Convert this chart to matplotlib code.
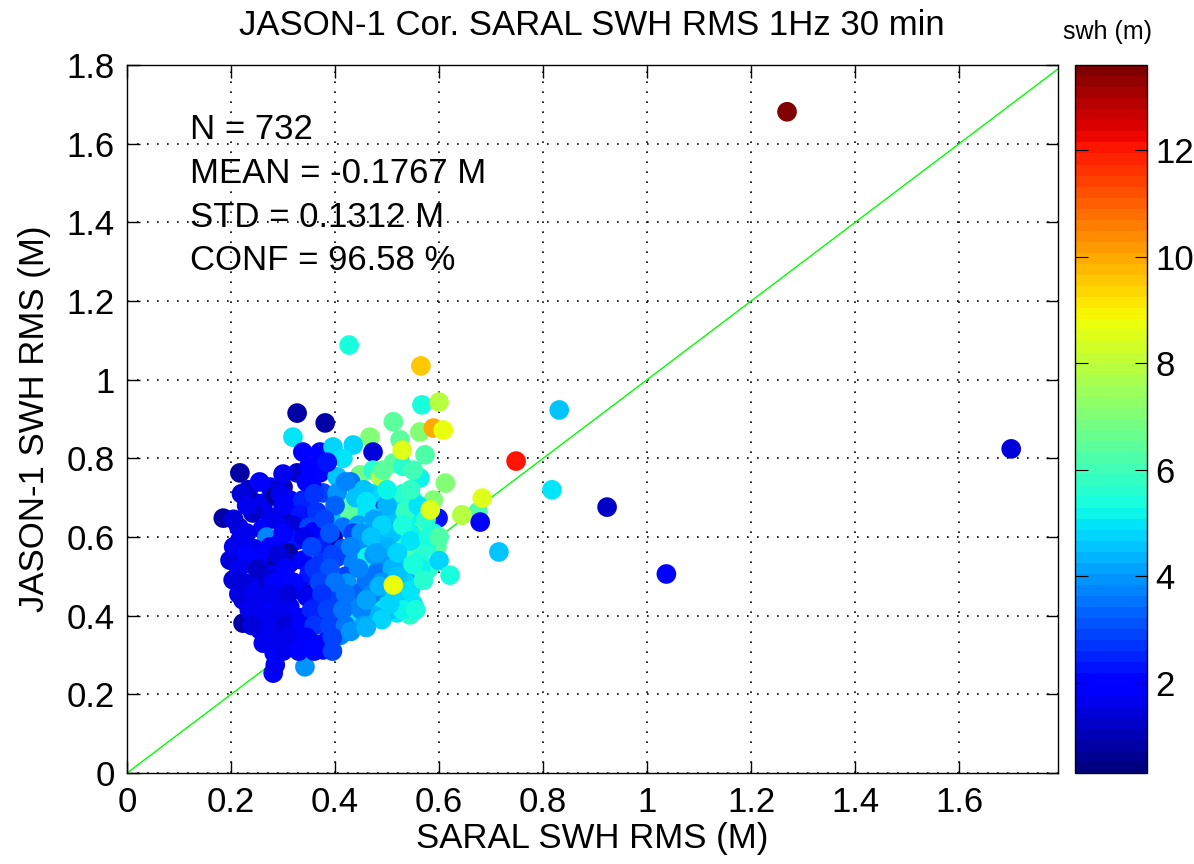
import matplotlib
matplotlib.use("Agg")
import matplotlib.pyplot as plt

plt.rcParams['font.family'] = ['Liberation Sans', 'DejaVu Sans']

# points: SARAL RMS (x), JASON-1 RMS (y), swh (colour)
upper_x = [0.327, 0.381, 0.567, 0.600, 0.512, 0.563, 0.589, 0.467, 0.525, 0.573,
           0.319, 0.338, 0.371, 0.396, 0.435, 0.473,
           0.217, 0.275, 0.300, 0.327, 0.371, 0.404, 0.415, 0.448, 0.473, 0.487,
           0.492, 0.512, 0.563, 0.612, 0.233, 0.350, 0.385, 0.300]
upper_y = [0.915, 0.890, 0.936, 0.943, 0.893, 0.867, 0.877, 0.854, 0.847, 0.809,
           0.854, 0.816, 0.816, 0.829, 0.834, 0.816,
           0.763, 0.727, 0.727, 0.763, 0.763, 0.753, 0.800, 0.758, 0.770, 0.753,
           0.770, 0.788, 0.750, 0.737, 0.720, 0.780, 0.790, 0.760]
upper_c = [0.8, 0.9, 5.3, 7.8, 6.5, 7.0, 10.0, 7.0, 6.5, 6.2,
           5.0, 1.8, 2.0, 4.7, 4.8, 1.5,
           0.8, 1.6, 1.0, 1.2, 2.0, 4.5, 5.0, 6.8, 5.5, 7.8,
           6.5, 6.5, 5.2, 7.0, 1.3, 1.8, 2.2, 1.6]

middle_x = [0.246, 0.262, 0.313, 0.338, 0.377, 0.404, 0.429, 0.452, 0.487, 0.519,
            0.550, 0.589, 0.577, 0.598, 0.644, 0.675, 0.679, 0.285, 0.355,
            0.185, 0.242, 0.275, 0.300, 0.333, 0.365, 0.394, 0.429, 0.462, 0.487,
            0.519, 0.550, 0.563, 0.589, 0.215, 0.260, 0.320, 0.350, 0.415, 0.445,
            0.505, 0.535,
            0.217, 0.269, 0.294, 0.327, 0.358, 0.396, 0.435, 0.467, 0.512, 0.544,
            0.563, 0.596, 0.245, 0.310, 0.375, 0.415, 0.455, 0.490, 0.530, 0.340]
middle_y = [0.687, 0.686, 0.694, 0.694, 0.712, 0.712, 0.676, 0.694, 0.694, 0.686,
            0.694, 0.694, 0.669, 0.648, 0.656, 0.664, 0.638, 0.705, 0.730,
            0.648, 0.661, 0.651, 0.664, 0.656, 0.664, 0.651, 0.656, 0.664, 0.638,
            0.636, 0.643, 0.613, 0.610, 0.625, 0.620, 0.630, 0.625, 0.625, 0.630,
            0.660, 0.665,
            0.592, 0.600, 0.585, 0.592, 0.613, 0.598, 0.610, 0.618, 0.585, 0.567,
            0.541, 0.575, 0.570, 0.560, 0.575, 0.570, 0.580, 0.600, 0.605, 0.600]
middle_c = [1.1, 1.7, 1.9, 2.4, 3.0, 4.0, 6.5, 5.5, 2.8, 5.0,
            5.3, 7.0, 6.8, 2.2, 7.5, 6.2, 1.8, 0.9, 1.8,
            0.8, 1.3, 1.7, 1.0, 2.2, 2.6, 4.5, 6.4, 5.0, 5.3,
            2.9, 5.2, 6.5, 5.4, 1.6, 2.0, 1.4, 2.8, 3.5, 4.2,
            4.6, 5.8,
            1.6, 3.8, 1.8, 2.3, 2.0, 0.8, 3.0, 4.8, 5.0, 6.3,
            5.3, 6.5, 1.7, 0.8, 2.5, 3.2, 3.9, 4.4, 5.6, 1.7]

lower_x = [0.198, 0.231, 0.260, 0.288, 0.313, 0.338, 0.371, 0.404, 0.435, 0.462,
           0.500, 0.531, 0.550, 0.480, 0.420, 0.350, 0.280, 0.580, 0.600,
           0.204, 0.237, 0.269, 0.300, 0.333, 0.358, 0.390, 0.423, 0.448, 0.481,
           0.530, 0.550, 0.215, 0.255, 0.460, 0.505,
           0.223, 0.250, 0.281, 0.313, 0.346, 0.371, 0.404, 0.429, 0.462, 0.492,
           0.519, 0.544, 0.265, 0.300, 0.335, 0.445, 0.475]
lower_y = [0.541, 0.534, 0.545, 0.541, 0.534, 0.541, 0.534, 0.549, 0.534, 0.549,
           0.541, 0.516, 0.498, 0.510, 0.500, 0.505, 0.505, 0.520, 0.540,
           0.491, 0.483, 0.491, 0.473, 0.465, 0.458, 0.473, 0.483, 0.458, 0.448,
           0.450, 0.430, 0.455, 0.450, 0.490, 0.460,
           0.440, 0.422, 0.432, 0.422, 0.448, 0.432, 0.440, 0.422, 0.422, 0.414,
           0.407, 0.402, 0.395, 0.390, 0.395, 0.395, 0.400]
lower_c = [1.5, 1.3, 1.8, 0.9, 1.2, 2.0, 2.7, 3.0, 3.8, 5.2,
           4.0, 4.6, 3.7, 3.5, 3.0, 2.2, 1.6, 5.5, 4.7,
           1.4, 1.6, 1.5, 1.8, 2.0, 1.0, 3.0, 4.0, 3.3, 4.8,
           4.5, 5.0, 1.6, 1.5, 3.6, 4.2,
           1.5, 1.7, 1.8, 1.9, 1.6, 2.2, 3.0, 3.8, 4.0, 5.0,
           4.9, 5.5, 1.6, 1.5, 1.9, 3.5, 4.3]

base_x = [0.223, 0.256, 0.288, 0.319, 0.346, 0.377, 0.404, 0.435, 0.385, 0.358,
          0.294, 0.262, 0.410, 0.330, 0.377,
          0.281, 0.285, 0.283, 0.342]
base_y = [0.381, 0.364, 0.356, 0.371, 0.397, 0.389, 0.381, 0.397, 0.338, 0.330,
          0.320, 0.330, 0.350, 0.345, 0.313,
          0.254, 0.275, 0.305, 0.270]
base_c = [0.8, 1.6, 1.5, 1.8, 1.7, 2.3, 2.8, 5.0, 2.2, 2.0,
          1.7, 1.6, 3.8, 1.9, 2.0,
          1.8, 1.7, 1.8, 4.0]

core_x = [0.255, 0.345, 0.430,
          0.220, 0.295, 0.360, 0.470, 0.530,
          0.230, 0.300, 0.400, 0.500, 0.560,
          0.205, 0.285, 0.380, 0.475, 0.575,
          0.230, 0.300, 0.390, 0.450, 0.510, 0.545,
          0.205, 0.275, 0.355, 0.430, 0.500, 0.575,
          0.230, 0.290, 0.395, 0.475,
          0.215, 0.250, 0.305, 0.360, 0.390, 0.445, 0.510, 0.565,
          0.220, 0.285, 0.320, 0.370, 0.400, 0.490, 0.535,
          0.240, 0.275, 0.310, 0.375, 0.420, 0.470, 0.515,
          0.235, 0.295, 0.355, 0.385, 0.415, 0.450, 0.505, 0.530,
          0.240, 0.275, 0.305, 0.335, 0.360, 0.390, 0.420, 0.455,
          0.275, 0.310, 0.345, 0.395,
          0.300, 0.330, 0.360, 0.395]
core_y = [0.740, 0.740, 0.740,
          0.710, 0.710, 0.710, 0.710, 0.710,
          0.680, 0.680, 0.680, 0.680, 0.680,
          0.645, 0.645, 0.645, 0.645, 0.645,
          0.610, 0.610, 0.610, 0.610, 0.610, 0.610,
          0.575, 0.575, 0.575, 0.575, 0.575, 0.575,
          0.555, 0.555, 0.555, 0.555,
          0.520, 0.520, 0.520, 0.520, 0.520, 0.520, 0.520, 0.520,
          0.485, 0.485, 0.485, 0.485, 0.485, 0.485, 0.485,
          0.455, 0.455, 0.455, 0.455, 0.455, 0.455, 0.455,
          0.415, 0.415, 0.415, 0.415, 0.415, 0.415, 0.415, 0.415,
          0.375, 0.375, 0.375, 0.375, 0.375, 0.375, 0.375, 0.375,
          0.345, 0.345, 0.345, 0.345,
          0.310, 0.310, 0.310, 0.310]
core_c = [1.8, 1.9, 3.6,
          1.4, 1.7, 2.6, 4.8, 5.6,
          1.6, 1.9, 3.4, 4.4, 5.0,
          1.5, 1.6, 3.0, 4.2, 5.6,
          1.7, 2.0, 3.2, 4.0, 4.6, 5.2,
          1.6, 1.8, 2.8, 3.8, 4.3, 5.5,
          2.0, 1.4, 3.0, 3.9,
          1.6, 1.3, 1.9, 2.6, 3.2, 3.8, 4.4, 5.2,
          1.5, 1.8, 2.0, 2.8, 3.6, 4.0, 4.8,
          1.7, 1.6, 1.4, 2.7, 3.5, 3.8, 4.7,
          1.6, 1.7, 2.4, 3.0, 3.6, 3.8, 4.6, 5.1,
          1.4, 1.6, 1.5, 1.9, 2.6, 3.0, 3.6, 4.2,
          1.7, 1.6, 1.8, 2.8,
          1.7, 1.9, 2.0, 3.0]

rim_x = [0.455, 0.500, 0.545, 0.490, 0.530, 0.470, 0.545, 0.520, 0.480, 0.550,
         0.520, 0.485, 0.545, 0.570, 0.505, 0.555, 0.460, 0.490, 0.430, 0.460,
         0.580, 0.600, 0.420, 0.440, 0.460, 0.530, 0.550]
rim_y = [0.720, 0.720, 0.720, 0.630, 0.630, 0.600, 0.590, 0.560, 0.560, 0.530,
         0.500, 0.475, 0.465, 0.490, 0.430, 0.415, 0.440, 0.390, 0.360, 0.370,
         0.600, 0.600, 0.740, 0.700, 0.690, 0.780, 0.770]
rim_c = [4.6, 5.2, 5.8, 4.8, 5.3, 4.5, 5.0, 4.8, 4.2, 5.4,
         4.5, 4.4, 4.9, 5.6, 4.8, 5.3, 4.1, 4.7, 3.9, 4.4,
         5.3, 6.2, 3.8, 4.6, 5.0, 5.5, 6.0]

bright_x = [0.608, 0.529, 0.583, 0.512, 0.683, 0.644, 0.621]
bright_y = [0.872, 0.821, 0.669, 0.478, 0.699, 0.656, 0.503]
bright_c = [8.7, 8.5, 8.5, 8.8, 8.5, 7.8, 5.3]

outlier_x = [1.269, 1.700, 1.037, 0.923, 0.831, 0.817, 0.748, 0.715, 0.427, 0.565]
outlier_y = [1.681, 0.824, 0.506, 0.676, 0.923, 0.720, 0.793, 0.562, 1.088, 1.035]
outlier_c = [13.6, 1.5, 2.0, 1.3, 4.5, 5.0, 12.0, 4.5, 5.3, 9.5]

saral_rms = upper_x + middle_x + lower_x + base_x + core_x + rim_x + bright_x + outlier_x
jason_rms = upper_y + middle_y + lower_y + base_y + core_y + rim_y + bright_y + outlier_y
swh = upper_c + middle_c + lower_c + base_c + core_c + rim_c + bright_c + outlier_c

stats = ["N = 732", "MEAN = -0.1767 M", "STD = 0.1312 M", "CONF = 96.58 %"]
xticks = [0, 0.2, 0.4, 0.6, 0.8, 1.0, 1.2, 1.4, 1.6]
yticks = [0, 0.2, 0.4, 0.6, 0.8, 1.0, 1.2, 1.4, 1.6, 1.8]
cticks = [2, 4, 6, 8, 10, 12]

fs = 25
fig = plt.figure(figsize=(11.94, 8.64), dpi=100)
ax = fig.add_axes([0.1064, 0.1053, 0.7797, 0.8195])

ax.plot([0, 1.8], [0, 1.8], color=(0, 1, 0), lw=1, zorder=2)
sc = ax.scatter(saral_rms, jason_rms, c=swh, s=200, cmap=plt.get_cmap('jet', 64),
                vmin=0.3, vmax=13.6, edgecolors='none', zorder=3)

ax.set_xlim(0, 1.79)
ax.set_ylim(0, 1.8)
ax.set_xticks(xticks)
ax.set_xticklabels(['%g' % t for t in xticks])
ax.set_yticks(yticks)
ax.set_yticklabels(['%g' % t for t in yticks])
ax.grid(True, color='black', linestyle=(0, (1, 5)), linewidth=1.2)
ax.set_axisbelow(True)
ax.tick_params(direction='in', top=True, right=True, length=9, width=1,
               labelsize=fs, pad=9)
for sp in ax.spines.values():
    sp.set_linewidth(1)

for i, line in enumerate(stats):
    ax.text(0.121, 1.635 - i * 0.111, line, fontsize=fs, va='center', ha='left', zorder=4)

ax.set_xlabel('SARAL SWH RMS (M)', fontsize=fs, va='center')
ax.set_ylabel('JASON-1 SWH RMS (M)', fontsize=fs, va='center')
ax.xaxis.set_label_coords(0.5, -0.092)
ax.yaxis.set_label_coords(-0.099, 0.5)
fig.text(0.496, 0.971, 'JASON-1 Cor. SARAL SWH RMS 1Hz 30 min', fontsize=fs,
         ha='center', va='center')

cax = fig.add_axes([0.9003, 0.1053, 0.0603, 0.8195])
cb = fig.colorbar(sc, cax=cax)
cb.set_ticks(cticks)
cax.tick_params(direction='in', left=True, right=True, length=9, labelsize=fs, pad=6)
cb.outline.set_linewidth(1)
fig.text(0.9275, 0.963, 'swh (m)', fontsize=18, ha='center', va='center')

fig.savefig('out.png', dpi=100)
